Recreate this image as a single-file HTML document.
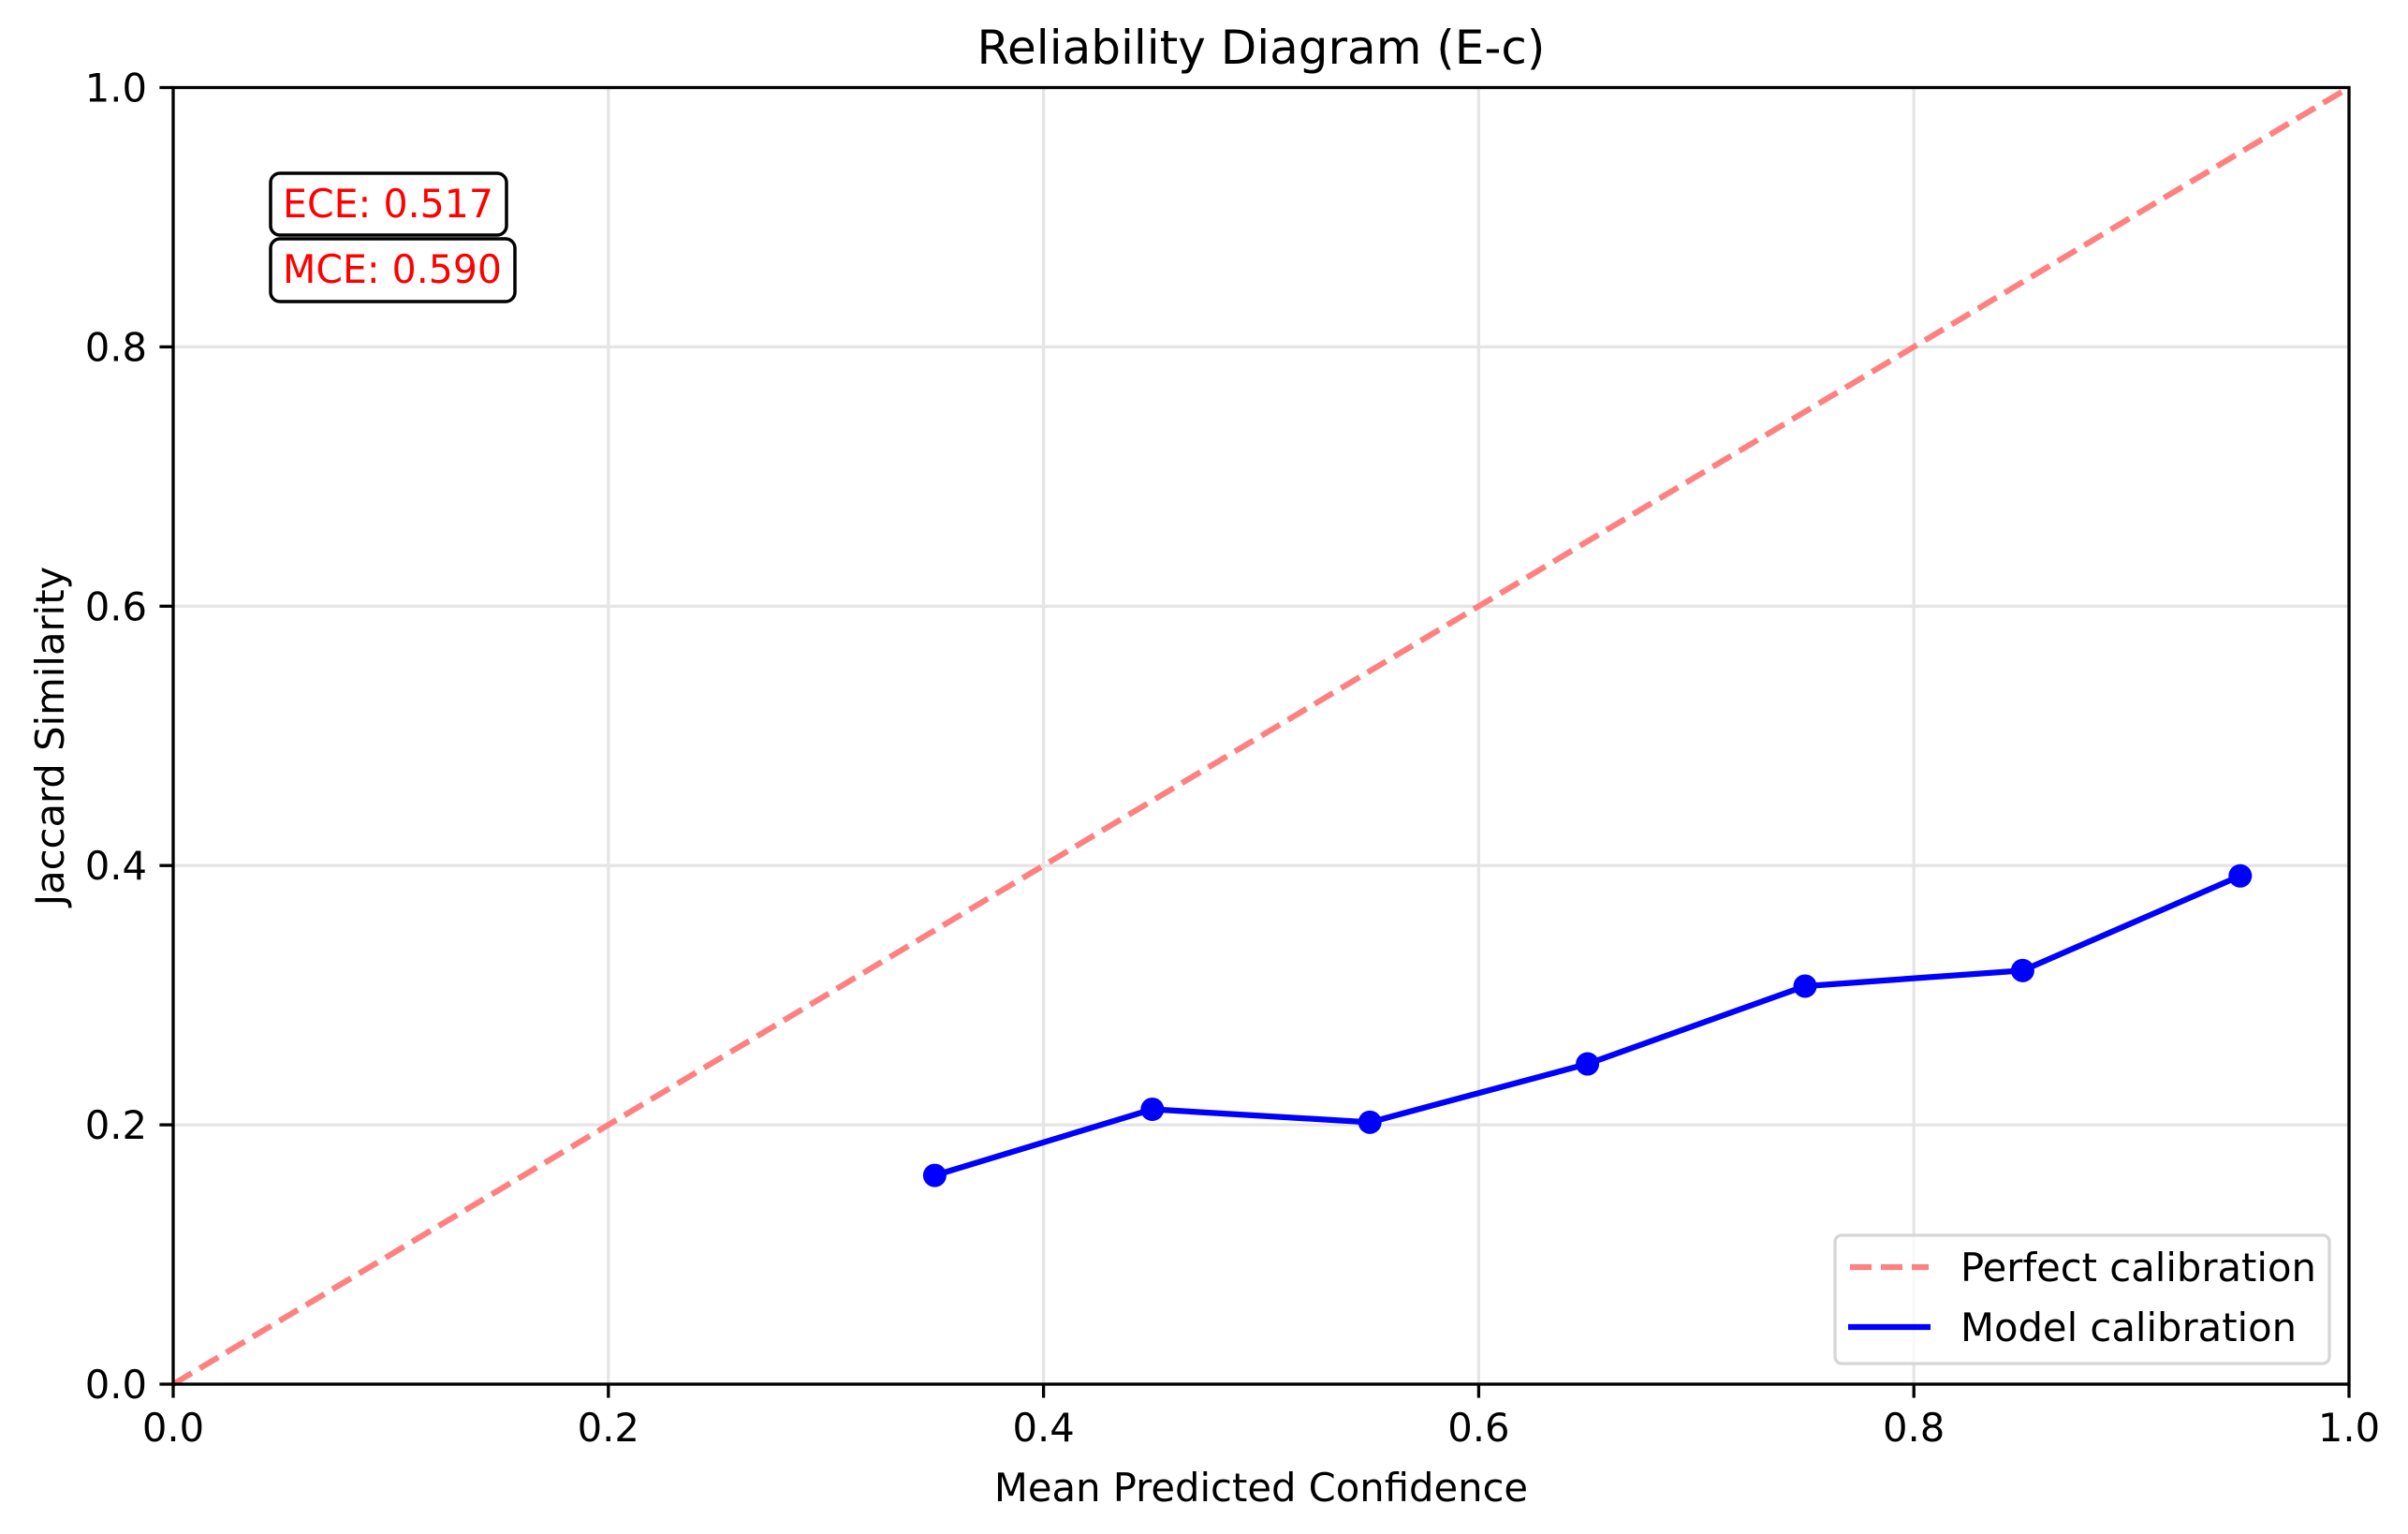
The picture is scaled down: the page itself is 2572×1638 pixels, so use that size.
<!DOCTYPE html>
<html><head><meta charset="utf-8"><style>
html,body{margin:0;padding:0;background:#fff}
svg{display:block;font-family:"DejaVu Sans","Liberation Sans",sans-serif}
</style></head><body>
<svg id="chart" width="2572" height="1638" viewBox="0 0 2572 1638" xmlns="http://www.w3.org/2000/svg">
<rect width="2572" height="1638" fill="#fff"/>
<g id="grid"></g>
<g id="series"></g>
<g id="axes"></g>
<text x="1347" y="68" font-size="50" text-anchor="middle">Reliability Diagram (E-c)</text>
<text x="1347" y="1603" font-size="41.7" text-anchor="middle">Mean Predicted Confidence</text>
<text transform="translate(68,786) rotate(-90)" font-size="41.7" text-anchor="middle">Jaccard Similarity</text>
<g>
<rect x="289" y="185" width="252" height="66" rx="10" fill="#fff" stroke="#000" stroke-width="3.5"/>
<text x="302" y="232" font-size="41.7" fill="#ff0000" textLength="225" lengthAdjust="spacingAndGlyphs">ECE: 0.517</text>
</g>
<g>
<rect x="289" y="255" width="261" height="67" rx="10" fill="#fff" stroke="#000" stroke-width="3.5"/>
<text x="302" y="302" font-size="41.7" fill="#ff0000" textLength="234" lengthAdjust="spacingAndGlyphs">MCE: 0.590</text>
</g>
<g>
<rect x="1960" y="1319" width="528" height="137" rx="7" fill="#fff" fill-opacity="0.8" stroke="#d6d6d6" stroke-width="3.3"/>
<line x1="1976" y1="1353" x2="2060" y2="1353" stroke="#ff8080" stroke-width="6.25" stroke-dasharray="23,10"/>
<text x="2094" y="1368" font-size="41.7">Perfect calibration</text>
<line x1="1974" y1="1417" x2="2062" y2="1417" stroke="#0000ff" stroke-width="6.25"/>
<text x="2094" y="1432" font-size="41.7">Model calibration</text>
</g>
</svg>
<script>
const xTicks = [0, 0.2, 0.4, 0.6, 0.8, 1.0];
const yTicks = [0, 0.2, 0.4, 0.6, 0.8, 1.0];
const tickLabels = ["0.0", "0.2", "0.4", "0.6", "0.8", "1.0"];
const confidence = [0.35, 0.45, 0.55, 0.65, 0.75, 0.85, 0.95];
const accuracy = [0.161, 0.212, 0.202, 0.247, 0.307, 0.319, 0.392];
const perfectX = [0, 1];
const perfectY = [0, 1];

const L = 185, R = 2509, T = 93.5, B = 1478;
const NS = 'http://www.w3.org/2000/svg';
const sx = v => L + v * (R - L);
const sy = v => B - v * (B - T);
function mk(tag, attrs, parent) {
  const e = document.createElementNS(NS, tag);
  for (const k in attrs) e.setAttribute(k, attrs[k]);
  parent.appendChild(e);
  return e;
}
const grid = document.getElementById('grid');
const axes = document.getElementById('axes');
const series = document.getElementById('series');

xTicks.forEach((v, i) => {
  const g = mk('line', {x1: sx(v), x2: sx(v), y1: T, y2: B, stroke: '#e5e5e5', 'stroke-width': 3.3}, grid);
  
  
  const t = mk('line', {x1: sx(v), x2: sx(v), y1: B, y2: B + 14.6, stroke: '#000', 'stroke-width': 3.3}, axes);
  
  
  const lb = mk('text', {x: sx(v), y: B + 61, 'font-size': 41.7, 'text-anchor': 'middle'}, axes);
  lb.textContent = tickLabels[i];
  
  
});
yTicks.forEach((v, i) => {
  const g = mk('line', {x1: L, x2: R, y1: sy(v), y2: sy(v), stroke: '#e5e5e5', 'stroke-width': 3.3}, grid);
  
  
  const t = mk('line', {x1: L - 14.6, x2: L, y1: sy(v), y2: sy(v), stroke: '#000', 'stroke-width': 3.3}, axes);
  
  
  const lb = mk('text', {x: L - 28, y: sy(v) + 15, 'font-size': 41.7, 'text-anchor': 'end'}, axes);
  lb.textContent = tickLabels[i];
  
  
});
const frame = mk('rect', {x: L, y: T, width: R - L, height: B - T, fill: 'none', stroke: '#000', 'stroke-width': 3.3}, axes);



const perf = mk('polyline', {points: perfectX.map((x, i) => sx(x) + ',' + sy(perfectY[i])).join(' '), fill: 'none', stroke: '#ff8080', 'stroke-width': 6.25, 'stroke-dasharray': '23,10'}, series);



const model = mk('polyline', {points: confidence.map((x, i) => sx(x) + ',' + sy(accuracy[i])).join(' '), fill: 'none', stroke: '#0000ff', 'stroke-width': 6.25, 'stroke-linejoin': 'round'}, series);


confidence.forEach((x, i) => {
  const c = mk('circle', {cx: sx(x), cy: sy(accuracy[i]), r: 12.5, fill: '#0000ff'}, series);
  
  
});
</script>
</body></html>
